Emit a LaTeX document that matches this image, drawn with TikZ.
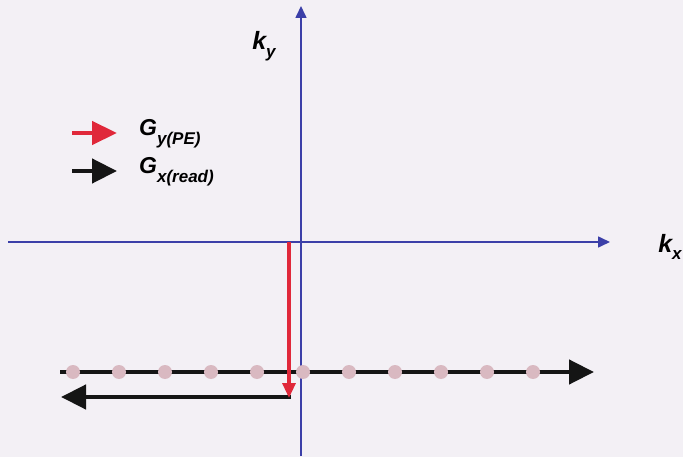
\documentclass[tikz,border=0pt]{standalone}
\usepackage{fontspec}
\setmainfont{Liberation Sans}
\usetikzlibrary{arrows.meta}
\definecolor{bgc}{HTML}{F3F0F5}
\definecolor{axisblue}{HTML}{3B3FA8}
\definecolor{gred}{HTML}{E0283A}
\definecolor{gblack}{HTML}{151515}
\definecolor{dotpink}{HTML}{D9B9C1}
\tikzset{
  axis/.style={draw=axisblue, line width=1.6pt, -{Triangle[length=12pt,width=11pt]}},
  gradred/.style={draw=gred, line width=3.2pt, -{Triangle[length=15pt,width=13pt]}},
  gradblack/.style={draw=gblack, line width=4.5pt, -{Triangle[length=25pt,width=24pt]}},
  legred/.style={draw=gred, line width=4.5pt, -{Triangle[length=25pt,width=23pt]}},
  lbl/.style={font=\bfseries\itshape\fontsize{25}{28}\selectfont, inner sep=0pt},
  glbl/.style={font=\bfseries\itshape\fontsize{23}{26}\selectfont, inner sep=0pt, anchor=west},
  kdot/.style={circle, fill=dotpink, minimum size=14pt, inner sep=0pt}
}
\begin{document}
\begin{tikzpicture}[x=1pt,y=-1pt]
\fill[bgc] (0,0) rectangle (683,457);
\useasboundingbox (0,0) rectangle (683,457);
% axes
\coordinate (xl) at (8,242);
\coordinate (xr) at (610,242);
\coordinate (yb) at (301,456);
\coordinate (yt) at (301,6);
\draw[axis] (xl) -- (xr);
\draw[axis] (yb) -- (yt);
\node[lbl] (kx) at (670,247) {k\raisebox{-0.3em}{\fontsize{17}{17}\selectfont x}};
\node[lbl] (ky) at (264,46) {k\raisebox{-0.3em}{\fontsize{17}{17}\selectfont y}};
% readout line
\coordinate (rs) at (60,372);
\coordinate (re) at (594,372);
\draw[gradblack] (rs) -- (re);
\foreach \i in {0,...,10} {
  \node[kdot] (d\i) at ({73+46*\i},372) {};
}
% phase encode and prephase
\coordinate (p0) at (289,242);
\coordinate (p1) at (289,398);
\coordinate (q0) at (291,397);
\coordinate (q1) at (61,397);
\draw[gradblack] (q0) -- (q1);
\draw[gradred] (p0) -- (p1);
% legend
\coordinate (la1) at (72,133);
\coordinate (la2) at (117,133);
\coordinate (lb1) at (72,171);
\coordinate (lb2) at (117,171);
\draw[legred] (la1) -- (la2);
\draw[gradblack] (lb1) -- (lb2);
\node[glbl] (g1) at (139,134) {G\raisebox{-9pt}{\fontsize{17}{17}\selectfont y(PE)}};
\node[glbl] (g2) at (139,172) {G\raisebox{-9pt}{\fontsize{17}{17}\selectfont x(read)}};
\end{tikzpicture}
\end{document}
